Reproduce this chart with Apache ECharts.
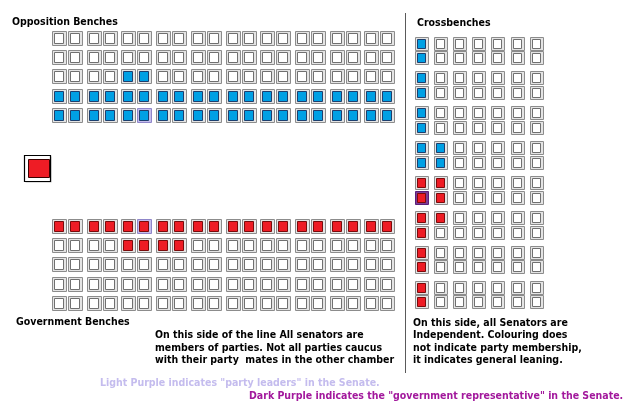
<!DOCTYPE html>
<html>
<head>
<meta charset="utf-8">
<script src="https://cdn.jsdelivr.net/npm/echarts@6/dist/echarts.min.js"></script>
<style>
html,body{margin:0;padding:0;background:#fff;}
#chart{width:640px;height:403px;}
</style>
</head>
<body>
<div id="chart"></div>
<script>
// Seat states: 0 empty, 1 blue, 2 red, 3 blue party leader, 4 red party leader, 5 red government representative
const oppositionRows = [
  [0,0,0,0,0,0,0,0,0,0,0,0,0,0,0,0,0,0,0,0],
  [0,0,0,0,0,0,0,0,0,0,0,0,0,0,0,0,0,0,0,0],
  [0,0,0,0,1,1,0,0,0,0,0,0,0,0,0,0,0,0,0,0],
  [1,1,1,1,1,1,1,1,1,1,1,1,1,1,1,1,1,1,1,1],
  [1,1,1,1,1,3,1,1,1,1,1,1,1,1,1,1,1,1,1,1]
];
const governmentRows = [
  [2,2,2,2,2,4,2,2,2,2,2,2,2,2,2,2,2,2,2,2],
  [0,0,0,0,2,2,2,2,0,0,0,0,0,0,0,0,0,0,0,0],
  [0,0,0,0,0,0,0,0,0,0,0,0,0,0,0,0,0,0,0,0],
  [0,0,0,0,0,0,0,0,0,0,0,0,0,0,0,0,0,0,0,0],
  [0,0,0,0,0,0,0,0,0,0,0,0,0,0,0,0,0,0,0,0]
];
const crossbenchRows = [
  [1,0,0,0,0,0,0],
  [1,0,0,0,0,0,0],
  [1,0,0,0,0,0,0],
  [1,0,0,0,0,0,0],
  [1,0,0,0,0,0,0],
  [1,0,0,0,0,0,0],
  [1,1,0,0,0,0,0],
  [1,1,0,0,0,0,0],
  [2,2,0,0,0,0,0],
  [5,2,0,0,0,0,0],
  [2,2,0,0,0,0,0],
  [2,0,0,0,0,0,0],
  [2,0,0,0,0,0,0],
  [2,0,0,0,0,0,0],
  [2,0,0,0,0,0,0],
  [2,0,0,0,0,0,0]
];
const presidingSeat = [2];

const blockTitles = ['Opposition Benches', 'Crossbenches', 'Government Benches'];
const partyNote = [
  'On this side of the line All senators are',
  'members of parties. Not all parties caucus',
  'with their party  mates in the other chamber'
];
const crossNote = [
  'On this side, all Senators are',
  'Independent. Colouring does',
  'not indicate party membership,',
  'it indicates general leaning.'
];
const legendNotes = [
  'Light Purple indicates "party leaders" in the Senate.',
  'Dark Purple indicates the "government representative" in the Senate.'
];

const PAIR_GAP = 0.169;   // extra gap between seat pairs (in seat units)
const CROSS_GAP = 0.407;  // extra gap between crossbench row pairs

function benchData(rows) {
  const out = [];
  rows.forEach((row, r) => row.forEach((s, c) => {
    out.push([c + Math.floor(c / 2) * PAIR_GAP, r, s]);
  }));
  return out;
}
function crossData(rows) {
  const out = [];
  rows.forEach((row, r) => row.forEach((s, c) => {
    out.push([c, r + Math.floor(r / 2) * CROSS_GAP, s]);
  }));
  return out;
}

const BLUE = '#00a0e4', RED = '#ee1c25';
const styles = {
  0: {ff: '#e4e4e4', fs: '#8c8c8c', inf: '#ffffff', ins: '#707070'},
  1: {ff: '#e4e4e4', fs: '#8c8c8c', inf: BLUE, ins: '#1d3f6e'},
  2: {ff: '#e4e4e4', fs: '#8c8c8c', inf: RED, ins: '#7a0b0b'},
  3: {ff: '#c4bdec', fs: '#8f86c9', inf: BLUE, ins: '#1d3f6e'},
  4: {ff: '#c4bdec', fs: '#8f86c9', inf: RED, ins: '#7a0b0b'},
  5: {ff: '#7d3c98', fs: '#5a1f78', inf: RED, ins: '#7a0b0b'}
};

function seatRenderer(size) {
  return function (params, api) {
    const p = api.coord([api.value(0), api.value(1)]);
    const st = styles[api.value(2)];
    const h = size / 2;
    const x0 = Math.round(p[0] - h) + 0.5, y0 = Math.round(p[1] - h) + 0.5;
    return {
      type: 'group',
      children: [
        {type: 'rect', shape: {x: x0, y: y0, width: size, height: size},
         style: {fill: st.ff, stroke: st.fs, lineWidth: 1}},
        {type: 'rect', shape: {x: x0 + 2, y: y0 + 2, width: size - 5, height: size - 4},
         style: {fill: st.inf, stroke: st.ins, lineWidth: 1}}
      ]
    };
  };
}

function presidingRenderer(params, api) {
  const p = api.coord([0, 0]);
  const x0 = Math.round(p[0] - 13) + 0.5, y0 = Math.round(p[1] - 13) + 0.5;
  return {
    type: 'group',
    children: [
      {type: 'rect', shape: {x: x0 + 1, y: y0 + 1, width: 26, height: 26}, style: {fill: '#bdbdbd'}},
      {type: 'rect', shape: {x: x0, y: y0, width: 26, height: 26}, style: {fill: '#ffffff', stroke: '#000000', lineWidth: 1.2}},
      {type: 'rect', shape: {x: x0 + 4, y: y0 + 4, width: 21, height: 18}, style: {fill: RED, stroke: '#3a0000', lineWidth: 1}}
    ]
  };
}

function hiddenAxis(gridIndex, min, max, inverse) {
  return {type: 'value', gridIndex, min, max, inverse: !!inverse, show: false,
          splitLine: {show: false}, axisLine: {show: false}, axisTick: {show: false}, axisLabel: {show: false}};
}

const benchXMax = 19 + 9 * PAIR_GAP + 0.5;
const crossYMax = 15 + 7 * CROSS_GAP + 0.5;

const FONT = 'bold 10.5px "DejaVu Sans Condensed", "DejaVu Sans", sans-serif';
const texts = [];
function addText(t, x, y, fill) {
  texts.push({type: 'text', x: x, y: y, silent: true,
    style: {text: t, fill: fill || '#000', font: FONT, verticalAlign: 'top', align: 'left'}});
}
addText(blockTitles[0], 12, 16.5);
addText(blockTitles[1], 417, 17.5);
addText(blockTitles[2], 16, 316.5);
partyNote.forEach((t, i) => addText(t, 155, 330 + i * 12.3));
crossNote.forEach((t, i) => addText(t, 413, 318 + i * 12.2));
addText(legendNotes[0], 100, 378, '#c4bcee');
addText(legendNotes[1], 249, 390.5, '#a2189c');
texts.push({type: 'line', silent: true, shape: {x1: 405.5, y1: 13, x2: 405.5, y2: 373},
  style: {stroke: '#5a5a5a', lineWidth: 1}});

const chart = echarts.init(document.getElementById('chart'), null, {renderer: 'canvas'});
chart.setOption({
  animation: false,
  backgroundColor: '#ffffff',
  grid: [
    {left: 51, top: 28.4, width: (benchXMax + 0.5) * 16, height: 96},
    {left: 51, top: 216.4, width: (benchXMax + 0.5) * 16, height: 96},
    {left: 411.4, top: 35.75, width: 134.4, height: (crossYMax + 0.5) * 14.5},
    {left: 24, top: 155, width: 26, height: 26}
  ],
  xAxis: [
    hiddenAxis(0, -0.5, benchXMax),
    hiddenAxis(1, -0.5, benchXMax),
    hiddenAxis(2, -0.5, 6.5),
    hiddenAxis(3, -0.5, 0.5)
  ],
  yAxis: [
    hiddenAxis(0, -0.5, 4.5, true),
    hiddenAxis(1, -0.5, 4.5, true),
    hiddenAxis(2, -0.5, crossYMax, true),
    hiddenAxis(3, -0.5, 0.5, true)
  ],
  series: [
    {type: 'custom', name: 'Opposition', xAxisIndex: 0, yAxisIndex: 0, renderItem: seatRenderer(14), data: benchData(oppositionRows), silent: true},
    {type: 'custom', name: 'Government', xAxisIndex: 1, yAxisIndex: 1, renderItem: seatRenderer(14), data: benchData(governmentRows), silent: true},
    {type: 'custom', name: 'Crossbench', xAxisIndex: 2, yAxisIndex: 2, renderItem: seatRenderer(13), data: crossData(crossbenchRows), silent: true},
    {type: 'custom', name: 'Presiding', xAxisIndex: 3, yAxisIndex: 3, renderItem: presidingRenderer, data: presidingSeat.map(s => [0, 0, s]), silent: true}
  ],
  graphic: texts
});
</script>
</body>
</html>
